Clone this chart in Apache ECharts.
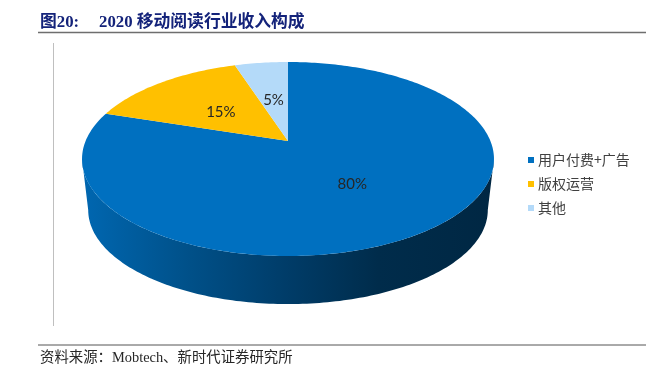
<!DOCTYPE html>
<html>
<head>
<meta charset="utf-8">
<style>
  html, body { margin: 0; padding: 0; background: #fff; }
  #chart { width: 666px; height: 376px; }
</style>
<script src="https://cdn.jsdelivr.net/npm/echarts@6/dist/echarts.min.js"></script>
</head>
<body>
<div id="chart"></div>
<script>
// 数据
const categories = ['用户付费+广告', '版权运营', '其他']
const shares = [80, 15, 5]
const colors = ['#0070C0', '#FFC000', '#B4DAF9']

// 3D 饼图的透视参数
const cx = 288
const apexY = 141
const spreadX = 202.4
const spreadY = 93.66
const tilt = 0.1856
const rimCenterY = 159
const baseCenterY = 210
const baseScale = 0.97
// 侧面明暗:[位置, 亮度系数]
const wallStops = [[0, 0.92], [0.25, 0.72], [0.5, 0.54], [0.72, 0.39], [1, 0.35]]

const total = shares.reduce((a, b) => a + b, 0)
const starts = shares.map((_, i) => shares.slice(0, i).reduce((a, b) => a + b, 0) / total)

function shade(color, k) {
  const c = echarts.color.parse(color)
  return `rgb(${Math.round(c[0] * k)},${Math.round(c[1] * k)},${Math.round(c[2] * k)})`
}

// 饼面上的点,frac 为顺时针比例,r 为半径比例
function facePoint(frac, r) {
  const u = Math.sin(frac * 2 * Math.PI) * r
  const v = Math.cos(frac * 2 * Math.PI) * r
  const w = 1 + tilt * v
  return [cx + (spreadX * u) / w, apexY - (spreadY * v) / w]
}
function basePoint(frac) {
  const p = facePoint(frac, 1)
  return [cx + (p[0] - cx) * baseScale, baseCenterY + (p[1] - rimCenterY) * baseScale]
}
function sample(from, to, fn) {
  const n = Math.max(2, Math.ceil((to - from) * 360))
  const pts = []
  for (let i = 0; i <= n; i++) pts.push(fn(from + ((to - from) * i) / n))
  return pts
}

const frontStart = Math.acos(-tilt) / (2 * Math.PI)
const frontEnd = 1 - frontStart

function renderSlice(params) {
  const i = params.seriesIndex
  const start = starts[i]
  const end = start + shares[i] / total
  const children = []
  // 侧面
  const s = Math.max(start, frontStart)
  const e = Math.min(end, frontEnd)
  if (e > s) {
    children.push({
      type: 'polygon',
      shape: {
        points: sample(s, e, f => facePoint(f, 1)).concat(sample(s, e, basePoint).reverse())
      },
      style: {
        fill: {
          type: 'linear',
          x: 82,
          y: 0,
          x2: 494,
          y2: 0,
          global: true,
          colorStops: wallStops.map(st => ({
            offset: st[0],
            color: shade(colors[i], st[1])
          }))
        }
      }
    })
  }
  // 饼面
  children.push({
    type: 'polygon',
    shape: { points: [facePoint(0, 0)].concat(sample(start, end, f => facePoint(f, 1))) },
    style: { fill: colors[i] }
  })
  // 百分比
  const c = facePoint((start + end) / 2, 0.5)
  children.push({
    type: 'text',
    style: {
      text: Math.round((shares[i] / total) * 100) + '%',
      x: c[0],
      y: c[1] + 2,
      align: 'center',
      verticalAlign: 'middle',
      fill: '#262626',
      font: '15px Lato'
    }
  })
  return { type: 'group', children }
}

const serifFont = '"Liberation Serif", "Noto Sans CJK SC"'
const chart = echarts.init(document.getElementById('chart'), null, { renderer: 'canvas' })
chart.setOption({
  animation: false,
  backgroundColor: '#fff',
  title: [
    {
      text: '图20:',
      left: 40,
      top: 14,
      padding: 0,
      textStyle: { fontFamily: serifFont, fontSize: 16.8, fontWeight: 'bold', color: '#14237A' }
    },
    {
      text: '2020 移动阅读行业收入构成',
      left: 99,
      top: 14,
      padding: 0,
      textStyle: { fontFamily: serifFont, fontSize: 16.8, fontWeight: 'bold', color: '#14237A' }
    },
    {
      text: '资料来源：Mobtech、新时代证券研究所',
      left: 40,
      top: 351,
      padding: 0,
      textStyle: { fontFamily: serifFont, fontSize: 14.4, fontWeight: 'normal', color: '#262626' }
    }
  ],
  legend: {
    data: categories,
    orient: 'vertical',
    left: 523,
    top: 146,
    icon: 'rect',
    itemWidth: 6,
    itemHeight: 6,
    itemGap: 6,
    selectedMode: false,
    textStyle: {
      fontFamily: '"Noto Sans CJK SC"',
      fontSize: 14,
      lineHeight: 18,
      color: '#404040',
      padding: [0, 0, 0, -1]
    }
  },
  graphic: [
    {
      type: 'line',
      shape: { x1: 38, y1: 32.5, x2: 646, y2: 32.5 },
      style: { stroke: '#6E6E6E', lineWidth: 1.5 }
    },
    {
      type: 'line',
      shape: { x1: 38, y1: 345, x2: 646, y2: 345 },
      style: { stroke: '#555', lineWidth: 1 }
    },
    {
      type: 'line',
      shape: { x1: 53.5, y1: 43, x2: 53.5, y2: 326 },
      style: { stroke: '#BFBFBF', lineWidth: 1 }
    }
  ],
  series: categories.map((name, i) => ({
    type: 'custom',
    name,
    coordinateSystem: 'none',
    silent: true,
    itemStyle: { color: colors[i] },
    renderItem: renderSlice,
    data: [shares[i]]
  }))
})
</script>
</body>
</html>
